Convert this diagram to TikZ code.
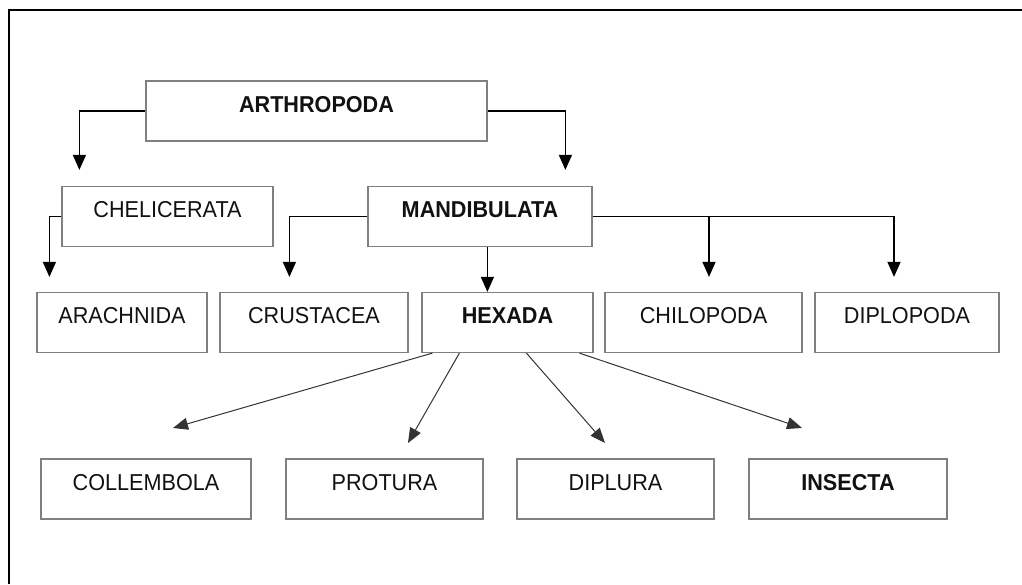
\documentclass[tikz,border=0pt]{standalone}
\usepackage{fontspec}
\setmainfont{Liberation Sans}[FakeStretch=0.94]
\usetikzlibrary{arrows.meta,positioning,calc}
\definecolor{edge}{HTML}{808080}
\definecolor{ink}{HTML}{111111}
\definecolor{link}{HTML}{333333}
\tikzset{
  box/.style={draw=edge,line width=1.2pt,minimum width=#1,minimum height=60pt,inner sep=0pt,
    text height=16.5pt,text depth=14pt,text=ink,font=\fontsize{23}{27}\selectfont},
  box/.default=190pt,
  key/.style={font=\fontsize{23}{27}\selectfont\bfseries},
  arr/.style={-{Triangle[length=15pt,width=13pt]},line width=1.4pt,draw=black},
  slant/.style={-{Triangle[length=15pt,width=12pt]},line width=1pt,draw=link},
}
\begin{document}
\begin{tikzpicture}[x=1pt,y=-1pt]
        \useasboundingbox (0,0) rectangle (1022,584);
        \draw[line width=2pt] (9,584) -- (9,10) -- (1022,10);
        \node[box=341pt,key] (arth) at (316.5,111) {ARTHROPODA};
        \node[box=211pt] (chel) at (167.5,216.5) {CHELICERATA};
        \node[box=224pt,key] (mand) at (480,216.5) {MANDIBULATA};
        \node[box=170pt] (arach) at (122,322.5) {ARACHNIDA};
        \node[box=188pt] (crust) at (314,322.5) {CRUSTACEA};
        \node[box=171pt,key] (hex) at (507.5,322.5) {HEXADA};
        \node[box=197pt] (chil) at (703.5,322.5) {CHILOPODA};
        \node[box=184pt] (dipl) at (907,322.5) {DIPLOPODA};
        \node[box=210pt] (coll) at (146,489) {COLLEMBOLA};
        \node[box=197pt] (prot) at (384.5,489) {PROTURA};
        \node[box=197pt] (diplu) at (615.5,489) {DIPLURA};
        \node[box=198pt,key] (ins) at (848,489) {INSECTA};
        \coordinate (chiltop) at ([xshift=5.5pt]chil.north);
        \coordinate (dipltop) at ([xshift=-13pt]dipl.north);
        \draw[arr,shorten >=16pt] (arth.west) -| ([xshift=18pt]chel.north west);
        \draw[arr,shorten >=16pt] (arth.east) -| ([xshift=198pt]mand.north west);
        \draw[arr,shorten >=15pt] (chel.west) -| ([xshift=13pt]arach.north west);
        \draw[arr,shorten >=15pt] (mand.west) -| ([xshift=70pt]crust.north west);
        \draw[arr] ([xshift=120pt]mand.south west) -- ([xshift=66pt]hex.north west);
        \draw[arr,shorten >=15pt] (mand.east) -| (dipltop);
        \draw[arr,shorten >=15pt] (mand.east -| chiltop) -- (chiltop);
        \coordinate (tcoll) at (173,428);
        \coordinate (tprot) at (408,443);
        \coordinate (tdiplu) at (605,443);
        \coordinate (tins) at (802,428);
        \draw[slant] ([xshift=11pt]hex.south west) -- (tcoll);
        \draw[slant] ([xshift=38pt]hex.south west) -- (tprot);
        \draw[slant] ([xshift=105pt]hex.south west) -- (tdiplu);
        \draw[slant] ([xshift=158pt]hex.south west) -- (tins);
      \end{tikzpicture}
\end{document}
